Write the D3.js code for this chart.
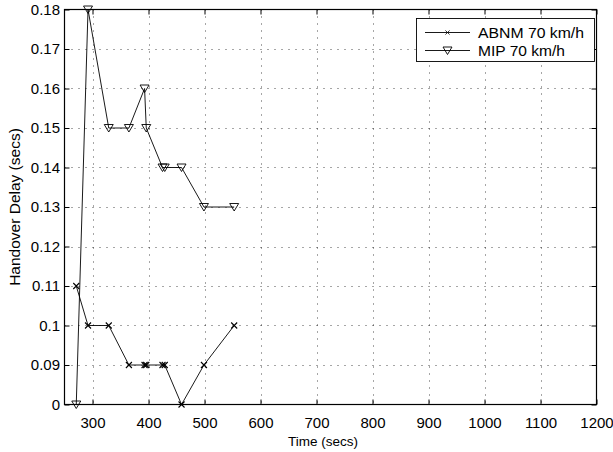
<!DOCTYPE html>
<html><head><meta charset="utf-8">
<script src="https://cdn.jsdelivr.net/npm/d3@7"></script>
<style>body{margin:0;background:#fff}svg{display:block}text{font-family:"Liberation Sans",Arial,sans-serif;fill:#000}</style>
</head><body><svg id="c" width="613" height="452"></svg>
<script>
const times = [271, 292, 329, 365, 393, 396, 425, 429, 459, 499, 553];
const abnm = [0.11, 0.10, 0.10, 0.09, 0.09, 0.09, 0.09, 0.09, 0, 0.09, 0.10];
const mip = [0, 0.18, 0.15, 0.15, 0.16, 0.15, 0.14, 0.14, 0.14, 0.13, 0.13];
const xTicks = [300, 400, 500, 600, 700, 800, 900, 1000, 1100, 1200];
const yTicks = [0, 0.09, 0.10, 0.11, 0.12, 0.13, 0.14, 0.15, 0.16, 0.17, 0.18];
const yTickLabels = ["0", "0.09", "0.1", "0.11", "0.12", "0.13", "0.14", "0.15", "0.16", "0.17", "0.18"];
const seriesNames = ["ABNM 70 km/h", "MIP 70 km/h"];

const L = 64.5, R = 596.5, T = 9.5, B = 404.5;
const svg = d3.select("#c");
const x = d3.scaleLinear().domain([250, 1200]).range([L, R]);
const step = (B - T) / 10;
const y = d3.scaleLinear().domain([0, 0.09, 0.18]).range([B, B - step, T]);
const FONT = "Liberation Sans, Arial, sans-serif";

// grid
const g = svg.append("g");
g.selectAll(".gx").data(xTicks.filter(d => d < 1200)).enter().append("line")
  .attr("x1", d => Math.round(x(d)) + 0.5).attr("x2", d => Math.round(x(d)) + 0.5)
  .attr("y1", T).attr("y2", B).attr("stroke", "#000").attr("stroke-width", 0.7)
  .attr("stroke-dasharray", "1,6");
g.selectAll(".gy").data(yTicks.filter(d => d > 0 && d < 0.18)).enter().append("line")
  .attr("y1", d => Math.round(y(d)) + 0.5).attr("y2", d => Math.round(y(d)) + 0.5)
  .attr("x1", L).attr("x2", R).attr("stroke", "#000").attr("stroke-width", 0.7)
  .attr("stroke-dasharray", "1,6");

// axes with inward ticks on all four sides
const fmt = d => yTickLabels[yTicks.indexOf(d)];
svg.append("g").attr("transform", `translate(0,${B})`)
  .call(d3.axisBottom(x).tickValues(xTicks).tickSizeInner(-5).tickSizeOuter(0).tickPadding(12.4).tickFormat(d3.format("d")))
  .call(s => { s.select(".domain").remove(); s.selectAll("text").attr("font-size", 15).attr("font-family", FONT); });
svg.append("g").attr("transform", `translate(0,${T})`)
  .call(d3.axisTop(x).tickValues(xTicks).tickSizeInner(-5).tickSizeOuter(0).tickFormat(""))
  .call(s => s.select(".domain").remove());
svg.append("g").attr("transform", `translate(${L},0)`)
  .call(d3.axisLeft(y).tickValues(yTicks).tickSizeInner(-5).tickSizeOuter(0).tickPadding(4.5).tickFormat(fmt))
  .call(s => { s.select(".domain").remove(); s.selectAll("text").attr("font-size", 15).attr("font-family", FONT); });
svg.append("g").attr("transform", `translate(${R},0)`)
  .call(d3.axisRight(y).tickValues(yTicks).tickSizeInner(-5).tickSizeOuter(0).tickFormat(""))
  .call(s => s.select(".domain").remove());
svg.append("rect").attr("x", L).attr("y", T).attr("width", R - L).attr("height", B - T)
  .attr("fill", "none").attr("stroke", "#000").attr("stroke-width", 1.2);

// series
const line = (vals) => d3.line().x((d, i) => x(times[i])).y(d => y(d))(vals);
svg.append("path").attr("d", line(abnm)).attr("fill", "none").attr("stroke", "#000").attr("stroke-width", 0.9);
svg.append("path").attr("d", line(mip)).attr("fill", "none").attr("stroke", "#000").attr("stroke-width", 0.9);

const cross = (sel) => sel.attr("d", "M-3,-3L3,3M-3,3L3,-3").attr("stroke", "#000").attr("stroke-width", 1.1).attr("fill", "none");
const tri = (sel) => sel.attr("d", "M-4.5,-3.5L4.5,-3.5L0,4Z").attr("stroke", "#000").attr("stroke-width", 0.9).attr("fill", "none");
svg.append("g").selectAll("path").data(abnm).enter().append("path")
  .attr("transform", (d, i) => `translate(${x(times[i])},${y(d)})`).call(cross);
svg.append("g").selectAll("path").data(mip).enter().append("path")
  .attr("transform", (d, i) => `translate(${x(times[i])},${y(d)})`).call(tri);

// labels
svg.append("text").attr("x", 323).attr("y", 446).attr("text-anchor", "middle").attr("font-size", 13.5).text("Time (secs)");
svg.append("text").attr("transform", `translate(20,${(T + B) / 2}) rotate(-90)`).attr("text-anchor", "middle").attr("font-size", 15.5).text("Handover Delay (secs)");

// legend
const lg = svg.append("g");
lg.append("rect").attr("x", 416.5).attr("y", 18.5).attr("width", 178).attr("height", 43)
  .attr("fill", "#fff").attr("stroke", "#000").attr("stroke-width", 0.9);
const rows = [32.5, 50.5];
const widths = [106, 87];
seriesNames.forEach((n, i) => {
  lg.append("line").attr("x1", 425).attr("x2", 470).attr("y1", rows[i]).attr("y2", rows[i]).attr("stroke", "#000").attr("stroke-width", 0.9);
  const m = lg.append("path");
  if (i === 0) m.call(cross).attr("transform", `translate(447.5,${rows[i]}) scale(0.7)`);
  else m.call(tri).attr("transform", `translate(447.5,${rows[i]})`);
  lg.append("text").attr("x", 478).attr("y", rows[i] + 5).attr("font-size", 14.5)
    .attr("textLength", widths[i]).attr("lengthAdjust", "spacingAndGlyphs").text(n);
});
</script></body></html>
